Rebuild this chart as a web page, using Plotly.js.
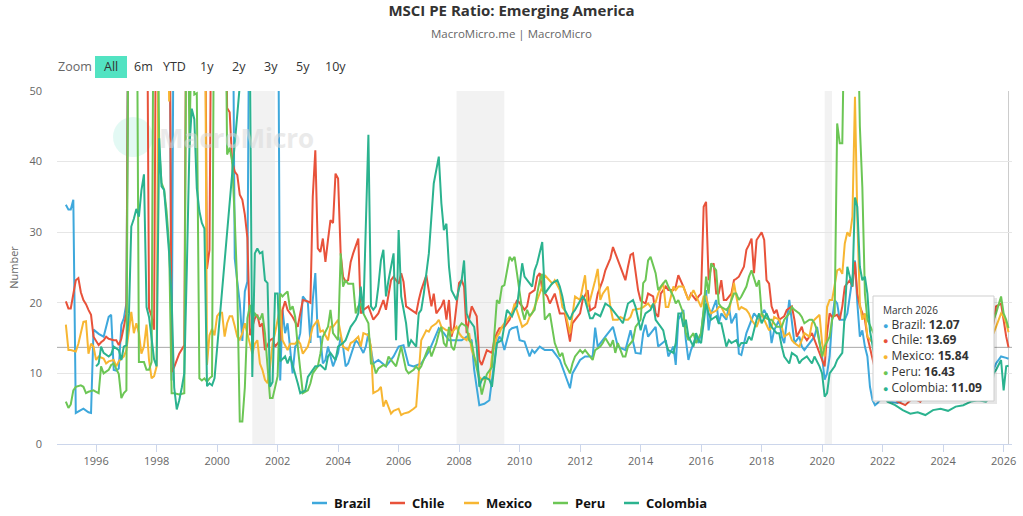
<!DOCTYPE html>
<html><head><meta charset="utf-8">
<script src="https://cdn.plot.ly/plotly-3.0.1.min.js"></script>
<style>html,body{margin:0;padding:0;background:#fff}#chart{width:1023px;height:516px}</style>
</head><body><div id="chart"></div>
<script>
// ---------------- DATA ----------------
const seriesNames = ["Brazil","Chile","Mexico","Peru","Colombia"];
const seriesColors = ["#3ea8dc","#e8523a","#f7b632","#6cc655","#2bb38f"];

const brazil = [["1995-01",33.9],["1995-02",33.2],["1995-03",33.2],["1995-04",34.6],["1995-05",4.4],["1995-06",4.6],["1995-08",5.0],["1995-10",4.5],["1995-11",4.4],["1995-12",16.2],["1996-02",15.6],["1996-04",15.2],["1996-05",16.6],["1996-06",18.0],["1996-07",18.3],["1996-08",10.5],["1996-09",10.4],["1996-10",10.7],["1996-11",16.9],["1996-12",17.8],["1997-01",19.9],["1997-02",80],["1998-06",80],["1998-07",9],["1998-08",80],["2000-07",80],["2000-08",26.3],["2000-09",23],["2000-10",20],["2000-11",14.6],["2000-12",21.6],["2001-01",23],["2001-02",80],["2002-01",80],["2002-02",9],["2002-03",19],["2002-04",15.7],["2002-05",17.1],["2002-06",13.8],["2002-07",10],["2002-08",13.8],["2002-09",14.3],["2002-10",15.7],["2002-11",20.9],["2003-01",20],["2003-02",14.3],["2003-03",20.4],["2003-04",24.2],["2003-05",15.2],["2003-06",15.2],["2003-07",11.4],["2003-08",11.9],["2003-09",13.8],["2003-11",11],["2004-01",12.9],["2004-02",15.2],["2004-03",13.8],["2004-04",11],["2004-05",11.4],["2004-07",13.8],["2004-08",14.7],["2004-09",14.3],["2004-11",12.9],["2004-12",13.8],["2005-01",15.7],["2005-03",11.4],["2005-05",11.9],["2005-08",11.0],["2005-11",12.4],["2006-01",13.8],["2006-03",14.0],["2006-05",11.2],["2006-07",11.0],["2006-10",11.4],["2007-01",13.1],["2007-03",14.7],["2007-05",16.4],["2007-07",15.7],["2007-09",14.7],["2007-11",14.7],["2008-02",14.7],["2008-04",15.2],["2008-06",14.7],["2008-07",10.5],["2008-08",7.6],["2008-09",5.5],["2008-11",5.7],["2009-01",6.2],["2009-02",9.1],["2009-04",14.3],["2009-05",15.2],["2009-06",14.7],["2009-07",13.3],["2009-09",16.1],["2009-10",16.4],["2009-12",16.6],["2010-01",14.7],["2010-03",14.5],["2010-05",12.4],["2010-06",13.3],["2010-07",12.9],["2010-09",13.8],["2010-11",13.3],["2011-02",13.3],["2011-05",11.9],["2011-07",10],["2011-09",7.9],["2011-10",10],["2012-01",11.9],["2012-03",12.4],["2012-06",12.4],["2012-07",16.5],["2012-08",13.8],["2012-11",15.2],["2013-02",16.6],["2013-04",13.8],["2013-07",13.3],["2013-09",16.1],["2013-11",12.9],["2014-01",12.8],["2014-02",15.7],["2014-03",16.9],["2014-04",15.2],["2014-07",16.6],["2014-08",13.8],["2014-11",14.7],["2014-12",12.4],["2015-02",13.8],["2015-03",11.2],["2015-04",17.6],["2015-06",19],["2015-07",14.7],["2015-08",11.9],["2015-09",13.3],["2015-11",15.2],["2015-12",14.3],["2016-01",15.7],["2016-03",21.8],["2016-04",16.1],["2016-05",18.5],["2016-07",20.4],["2016-08",17.1],["2016-09",18.5],["2016-11",17.6],["2016-12",19.5],["2017-01",17.1],["2017-03",18.5],["2017-04",12.8],["2017-05",12.6],["2017-07",15.7],["2017-08",16.6],["2017-10",18.5],["2017-12",17.6],["2018-02",19],["2018-04",17.6],["2018-05",14.3],["2018-06",16.1],["2018-08",17.6],["2018-09",15.2],["2018-10",14.3],["2018-12",20.4],["2019-01",17.6],["2019-02",14.3],["2019-04",15.2],["2019-05",13.8],["2019-06",13.3],["2019-07",13.8],["2019-09",14.7],["2019-10",15.2],["2019-11",16.6],["2020-01",12.4],["2020-02",9.1],["2020-03",10],["2020-04",12.4],["2020-05",17.6],["2020-06",20.4],["2020-07",19.9],["2020-08",17.6],["2020-10",17.6],["2020-11",18.5],["2021-01",23.2],["2021-02",26],["2021-03",20],["2021-04",15.2],["2021-05",16.1],["2021-06",13.8],["2021-07",12.4],["2021-08",8.1],["2021-09",6.2],["2021-10",5.5],["2021-11",5.8],["2022-01",6.7],["2022-04",6.0],["2022-07",5.8],["2022-10",6.5],["2023-01",6.5],["2023-04",6.8],["2023-07",8.0],["2023-10",7.5],["2024-01",8.2],["2024-04",7.8],["2024-07",8.0],["2024-10",7.5],["2025-01",7.0],["2025-04",8.5],["2025-07",9.5],["2025-08",10],["2025-09",10.5],["2025-10",11.4],["2025-12",12.4],["2026-02",12.2],["2026-03",12.07]];

const chile = [["1995-01",20.2],["1995-02",19.2],["1995-03",19.2],["1995-04",21.3],["1995-05",23.2],["1995-06",23.5],["1995-07",21.5],["1995-08",20.4],["1995-09",19.8],["1995-10",19],["1995-11",18.3],["1995-12",15.2],["1996-01",14.5],["1996-02",14],["1996-03",14.4],["1996-04",14.7],["1996-05",15.2],["1996-06",14.9],["1996-08",14.7],["1996-09",14.7],["1996-10",14],["1996-11",14.9],["1996-12",16.6],["1997-01",18.5],["1997-02",80],["1997-09",80],["1997-10",19.2],["1997-11",18.1],["1997-12",16.2],["1998-01",80],["1998-06",80],["1998-07",10.2],["1998-08",10.9],["1998-10",12.8],["1998-12",14],["1999-01",80],["1999-08",80],["1999-09",24.8],["1999-10",27.5],["1999-11",80],["2000-04",80],["2000-05",47.6],["2000-06",47],["2000-07",40],["2000-08",38.6],["2000-09",38.1],["2000-10",35.3],["2000-11",34.6],["2000-12",32.5],["2001-01",29.2],["2001-02",15.4],["2001-04",17.8],["2001-05",18.3],["2001-06",16.6],["2001-07",17.1],["2001-08",13.3],["2001-10",14.7],["2001-11",14.9],["2001-12",13.8],["2002-02",14.7],["2002-03",19],["2002-04",20.2],["2002-05",19],["2002-06",18.5],["2002-07",18],["2002-09",16.6],["2002-10",18.5],["2002-11",20.4],["2003-01",20.2],["2003-02",20],["2003-03",35],["2003-04",41.6],["2003-05",27.7],["2003-06",27.2],["2003-07",29.1],["2003-08",25.8],["2003-09",28.9],["2003-10",31.7],["2003-11",31.3],["2003-12",38.3],["2004-01",37.6],["2004-02",27],["2004-03",23.7],["2004-04",23],["2004-05",23.2],["2004-06",25.8],["2004-07",27],["2004-08",28.2],["2004-09",29.1],["2004-10",18.5],["2004-11",19],["2005-01",19.5],["2005-02",18.5],["2005-03",17.6],["2005-05",18.5],["2005-06",19.5],["2005-07",20.4],["2005-08",19],["2005-10",23.2],["2005-11",23.7],["2005-12",23.2],["2006-01",22.7],["2006-02",24.2],["2006-03",23],["2006-04",19.5],["2006-06",19],["2006-08",18.5],["2006-09",20.4],["2006-10",21.8],["2006-12",23.9],["2007-02",19.5],["2007-03",21.3],["2007-04",18.5],["2007-06",19.5],["2007-07",20.4],["2007-08",17.6],["2007-09",20.4],["2007-10",15.2],["2007-11",16.6],["2008-01",22.8],["2008-02",23.2],["2008-03",22.3],["2008-04",15.7],["2008-05",17.6],["2008-06",19.5],["2008-08",18.1],["2008-09",11.9],["2008-10",11.2],["2008-12",13.3],["2009-02",12.9],["2009-03",14.7],["2009-04",15.7],["2009-05",16.4],["2009-07",16.6],["2009-09",17.6],["2009-10",18.5],["2009-12",20.4],["2010-02",19.5],["2010-03",19],["2010-04",19.5],["2010-05",21.3],["2010-07",21.8],["2010-08",23.7],["2010-09",24.2],["2010-10",21.8],["2010-12",20.9],["2011-01",19.9],["2011-03",21.3],["2011-04",19.9],["2011-05",18.5],["2011-07",18.5],["2011-09",14.5],["2011-10",17.1],["2011-11",17.6],["2012-01",18.5],["2012-02",20.4],["2012-04",21.8],["2012-05",18.9],["2012-07",19.4],["2012-08",21.3],["2012-10",23.2],["2012-11",24.6],["2013-01",26.3],["2013-02",27.9],["2013-03",27],["2013-04",26],["2013-06",24.2],["2013-07",23.2],["2013-08",25.1],["2013-09",26.8],["2013-10",27],["2013-11",24.6],["2013-12",21.8],["2014-01",20.3],["2014-03",19.9],["2014-04",21.3],["2014-06",20.9],["2014-07",18.5],["2014-08",18],["2014-09",21.3],["2014-11",22.3],["2014-12",21.8],["2015-02",21.8],["2015-03",22.3],["2015-04",23.9],["2015-06",22.3],["2015-07",21.3],["2015-08",20.4],["2015-09",21.3],["2015-11",20.4],["2015-12",20.9],["2016-01",21.3],["2016-02",33.6],["2016-03",34.3],["2016-04",23.2],["2016-05",25.1],["2016-06",25.6],["2016-07",21.3],["2016-08",21.3],["2016-09",23.2],["2016-10",20.4],["2016-11",20.4],["2017-01",21.3],["2017-02",23.2],["2017-03",23.4],["2017-04",23.7],["2017-06",25.1],["2017-07",27.5],["2017-08",28.2],["2017-09",29.1],["2017-10",24.2],["2017-11",28.9],["2018-01",30],["2018-02",28.9],["2018-03",23.2],["2018-04",22.7],["2018-05",19.5],["2018-06",18.5],["2018-07",19],["2018-08",17.6],["2018-10",18.1],["2018-11",19],["2019-01",19.5],["2019-02",17.6],["2019-03",15.2],["2019-05",16.6],["2019-06",15.2],["2019-07",14.7],["2019-09",15.7],["2019-10",14.7],["2019-11",13.8],["2020-01",11.9],["2020-02",11],["2020-03",15.7],["2020-04",18.5],["2020-05",18],["2020-07",18.3],["2020-08",17.6],["2020-09",19.5],["2020-10",22.3],["2020-12",23.2],["2021-01",22.3],["2021-02",25.8],["2021-03",21.3],["2021-04",19.5],["2021-06",17.6],["2021-07",15.2],["2021-09",12],["2021-11",9],["2022-01",8],["2022-04",7],["2022-07",6],["2022-10",5.5],["2023-01",6.5],["2023-04",6],["2023-07",7.5],["2023-10",6.5],["2024-01",8],["2024-04",9.5],["2024-07",10],["2024-10",10.5],["2025-01",11],["2025-04",13],["2025-06",14.5],["2025-08",15.7],["2025-09",17.1],["2025-10",19.5],["2025-12",19.9],["2026-02",15.2],["2026-03",13.69]];

const mexico = [["1995-01",16.9],["1995-02",13.3],["1995-03",13.3],["1995-05",13.1],["1995-06",14.2],["1995-07",15.7],["1995-08",17.3],["1995-09",17.4],["1995-10",12.8],["1995-11",14.2],["1995-12",13.8],["1996-01",11.9],["1996-02",12.4],["1996-04",12.1],["1996-05",11.4],["1996-06",11.7],["1996-08",11.9],["1996-09",11],["1996-10",11.7],["1996-12",12.4],["1997-01",13.3],["1997-02",16.1],["1997-03",18.7],["1997-04",15.7],["1997-05",17.1],["1997-06",15.7],["1997-07",12.8],["1997-08",13.8],["1997-09",16.9],["1997-10",11.9],["1997-11",9.3],["1997-12",9.6],["1998-01",11],["1998-02",80],["1998-05",80],["1998-06",48.5],["1998-07",80],["1999-08",80],["1999-09",11.2],["1999-10",15.4],["1999-11",16.3],["1999-12",15.4],["2000-01",18.1],["2000-02",18.6],["2000-03",18.6],["2000-04",15.2],["2000-05",17.1],["2000-06",18.1],["2000-07",18.1],["2000-08",16.7],["2000-09",15.2],["2000-10",14.8],["2000-11",15.7],["2000-12",17.1],["2001-01",15.7],["2001-02",14.3],["2001-03",12.8],["2001-04",14.2],["2001-05",14.7],["2001-06",11.4],["2001-07",10.5],["2001-08",9.1],["2001-09",8.6],["2001-10",10.9],["2001-11",14.2],["2001-12",15.7],["2002-01",17.6],["2002-02",19.5],["2002-03",14.7],["2002-05",13.3],["2002-06",14.2],["2002-08",14.2],["2002-09",14.7],["2002-10",14.2],["2002-11",12.8],["2003-01",13.8],["2003-02",15.2],["2003-03",16.6],["2003-05",17.6],["2003-06",15.9],["2003-07",16.1],["2003-09",14.7],["2003-10",16.6],["2003-11",16.6],["2004-01",17.6],["2004-02",15.7],["2004-03",13.8],["2004-05",13.3],["2004-06",14.3],["2004-07",14.5],["2004-09",15.2],["2004-10",13.8],["2004-11",15.7],["2005-01",15.4],["2005-02",13.8],["2005-03",7.2],["2005-05",7.6],["2005-06",8.1],["2005-07",5.3],["2005-08",6.2],["2005-10",4.3],["2005-11",4.7],["2006-01",5],["2006-02",4.1],["2006-03",4.3],["2006-05",4.5],["2006-06",4.7],["2006-07",5],["2006-08",5.3],["2006-09",10],["2006-10",14.7],["2006-12",16.1],["2007-01",15.9],["2007-02",16.6],["2007-04",17.1],["2007-05",17.6],["2007-06",16.6],["2007-08",16.1],["2007-09",16.1],["2007-10",15.7],["2007-12",16.6],["2008-01",15.7],["2008-02",15.2],["2008-04",14.7],["2008-05",15.7],["2008-06",13.3],["2008-08",11.4],["2008-09",9.5],["2008-10",9.1],["2008-12",9.3],["2009-01",9.1],["2009-02",12.4],["2009-04",15.2],["2009-05",15.7],["2009-06",16.6],["2009-07",17.1],["2009-09",18],["2009-10",18.5],["2009-11",19.9],["2010-01",17.6],["2010-02",16.6],["2010-04",17.1],["2010-05",18],["2010-06",18.5],["2010-07",19.4],["2010-09",21.3],["2010-10",22.3],["2010-11",23.9],["2011-01",23.2],["2011-02",22.7],["2011-03",23.2],["2011-05",21.8],["2011-06",19.4],["2011-07",18.9],["2011-09",15.7],["2011-10",18.5],["2011-11",20.9],["2012-01",20.4],["2012-02",22.3],["2012-03",23.9],["2012-04",19.4],["2012-05",20.4],["2012-07",23.2],["2012-08",24.8],["2012-09",20.4],["2012-10",21.3],["2012-12",22.3],["2013-01",19.4],["2013-02",17.6],["2013-04",17.6],["2013-05",18],["2013-07",17.6],["2013-08",17.6],["2013-09",18],["2013-10",19],["2014-01",19.2],["2014-02",19.4],["2014-04",19.9],["2014-05",19.4],["2014-07",20.1],["2014-08",21.3],["2014-10",22.8],["2014-11",19.4],["2014-12",19.4],["2015-02",22.3],["2015-03",21.8],["2015-04",22.3],["2015-06",22.3],["2015-07",21.3],["2015-08",20.4],["2015-10",21.8],["2015-11",20.9],["2016-01",19.4],["2016-02",20.9],["2016-03",20.9],["2016-04",19.4],["2016-05",18.5],["2016-07",18.9],["2016-08",19.4],["2016-09",19.4],["2016-11",18],["2016-12",18.5],["2017-01",20.9],["2017-02",22.8],["2017-03",20.9],["2017-04",19],["2017-05",19.4],["2017-07",19],["2017-08",18.5],["2017-09",17.6],["2017-11",16.6],["2017-12",17.6],["2018-01",18.5],["2018-02",17.6],["2018-04",16.1],["2018-05",16.6],["2018-06",18],["2018-08",17.6],["2018-09",16.6],["2018-10",15.2],["2018-12",15.7],["2019-01",14.7],["2019-02",14.3],["2019-04",13.8],["2019-05",14.7],["2019-06",15.7],["2019-08",15.2],["2019-09",17.1],["2019-10",17.6],["2019-12",18.3],["2020-01",14.3],["2020-02",12.4],["2020-03",19.4],["2020-04",20.4],["2020-05",20.4],["2020-07",24.6],["2020-08",24.8],["2020-09",24.1],["2020-10",28.4],["2020-11",30],["2020-12",29.4],["2021-01",32.2],["2021-02",49.2],["2021-03",32.2],["2021-04",19.9],["2021-05",17.6],["2021-06",18.5],["2021-07",15.2],["2021-08",14.8],["2021-10",14],["2021-12",14.5],["2022-03",13.5],["2022-06",12.5],["2022-09",12],["2022-12",12.5],["2023-03",12.5],["2023-06",13.5],["2023-09",12.5],["2023-12",13.5],["2024-03",13],["2024-06",11.5],["2024-09",11.5],["2024-12",11],["2025-03",12.5],["2025-06",14],["2025-08",15.2],["2025-09",15.7],["2025-10",16.6],["2025-12",18.5],["2026-01",18.1],["2026-02",17.1],["2026-03",15.84]];

const peru = [["1995-01",6],["1995-02",5.1],["1995-03",5.6],["1995-04",7.6],["1995-05",8.1],["1995-07",8.3],["1995-08",8.1],["1995-09",7.2],["1995-10",7.4],["1995-12",7.6],["1996-01",7.4],["1996-02",7.2],["1996-03",11],["1996-04",10],["1996-06",10.5],["1996-07",11.2],["1996-08",11.4],["1996-09",10.5],["1996-10",9.9],["1996-11",6.5],["1996-12",7.2],["1997-01",7.6],["1997-02",80],["1997-05",80],["1997-06",11.6],["1997-07",11.6],["1997-08",11.6],["1997-09",10.5],["1997-10",10.5],["1997-11",11.6],["1997-12",80],["1998-01",80],["1998-02",42],["1998-03",37],["1998-04",36],["1998-05",33],["1998-06",28],["1998-07",7.2],["1998-08",7.2],["1998-10",7.0],["1998-12",7.2],["1999-01",80],["1999-02",42],["1999-03",60],["1999-04",49.5],["1999-05",49.7],["1999-06",9.3],["1999-07",9],["1999-08",9.3],["1999-09",8.8],["1999-10",9.3],["1999-11",9.6],["1999-12",80],["2000-04",80],["2000-05",41],["2000-06",42],["2000-07",40],["2000-08",32],["2000-09",22],["2000-10",3.2],["2000-11",3.2],["2000-12",8],["2001-01",17.8],["2001-02",19.7],["2001-03",17.6],["2001-04",18.5],["2001-05",18.1],["2001-06",17.6],["2001-07",18.5],["2001-08",15.7],["2001-09",11],["2001-10",6.5],["2001-11",6.5],["2001-12",8.1],["2002-01",9.6],["2002-02",21.3],["2002-03",20.9],["2002-04",21.3],["2002-05",21.6],["2002-06",19],["2002-07",19.5],["2002-08",18],["2002-09",13.8],["2002-11",7.2],["2003-01",7.6],["2003-02",8.6],["2003-03",10],["2003-05",11],["2003-06",12.8],["2003-07",15.2],["2003-09",16.6],["2003-10",19],["2003-11",15.7],["2004-01",14.7],["2004-02",27],["2004-03",22.3],["2004-04",23.2],["2004-05",22.7],["2004-07",22.7],["2004-08",18.5],["2004-09",19.5],["2004-10",19.9],["2004-11",18.5],["2005-01",17.1],["2005-02",11.4],["2005-03",11.4],["2005-04",10],["2005-05",10.7],["2005-07",11.2],["2005-08",11],["2005-09",12.4],["2005-10",11.9],["2005-12",11],["2006-01",12.4],["2006-02",13.8],["2006-04",10.5],["2006-05",10],["2006-07",10.5],["2006-08",11],["2006-09",10.5],["2006-10",11],["2006-12",12.9],["2007-01",13.8],["2007-02",12.4],["2007-04",14.3],["2007-05",15.7],["2007-06",16.6],["2007-07",14.3],["2007-08",13.8],["2007-09",16.6],["2007-10",13.8],["2007-11",13.3],["2008-01",16.6],["2008-02",17.1],["2008-04",16.6],["2008-05",14.7],["2008-06",14.3],["2008-07",12.4],["2008-09",9.1],["2008-10",7],["2008-11",8.6],["2008-12",9.9],["2009-02",10.9],["2009-03",15.2],["2009-04",20.4],["2009-05",19.9],["2009-06",22.3],["2009-07",22.5],["2009-09",26.5],["2009-10",26],["2009-11",26.5],["2009-12",24.1],["2010-02",18.9],["2010-03",17.6],["2010-04",19],["2010-05",18.1],["2010-07",19],["2010-08",21.3],["2010-09",23.2],["2010-10",24.1],["2010-11",17.6],["2011-01",18.5],["2011-02",16.1],["2011-03",14.3],["2011-05",12.4],["2011-06",12.9],["2011-07",11.4],["2011-09",10],["2011-10",11.4],["2011-11",12.4],["2012-01",13.3],["2012-02",12.9],["2012-03",13.3],["2012-05",12.4],["2012-06",11.9],["2012-07",13.3],["2012-09",13.8],["2012-10",14.3],["2012-11",15],["2013-01",13.8],["2013-02",14.7],["2013-03",12.9],["2013-04",14.3],["2013-06",12.4],["2013-07",12.4],["2013-08",13.8],["2013-10",14.7],["2013-11",16.6],["2014-01",17.6],["2014-02",22.8],["2014-03",23.2],["2014-04",26],["2014-05",26.5],["2014-07",24.2],["2014-08",21.8],["2014-09",22.3],["2014-11",23.2],["2014-12",22.3],["2015-02",20.9],["2015-03",19.9],["2015-04",20.4],["2015-06",18.5],["2015-07",15.7],["2015-08",14.7],["2015-10",15.7],["2015-11",14.3],["2016-01",15.7],["2016-02",19],["2016-03",23.7],["2016-04",21.3],["2016-05",25.6],["2016-07",24.6],["2016-08",19.9],["2016-09",19.4],["2016-11",19],["2016-12",19.4],["2017-02",21.3],["2017-03",21.3],["2017-04",20.4],["2017-05",20.9],["2017-07",22.3],["2017-08",23.7],["2017-09",24.6],["2017-11",22.3],["2017-12",23.2],["2018-01",18.5],["2018-02",18],["2018-04",17.6],["2018-05",17.6],["2018-06",17.1],["2018-07",16.6],["2018-09",16.6],["2018-10",17.6],["2018-12",18.5],["2019-01",19.4],["2019-02",19],["2019-04",18.5],["2019-05",18],["2019-06",17.1],["2019-08",17.6],["2019-09",17.6],["2019-10",17.1],["2019-11",16.1],["2020-01",12.4],["2020-02",13.8],["2020-04",15.2],["2020-05",17.6],["2020-06",18.5],["2020-07",45.4],["2020-08",42.6],["2020-09",42.6],["2020-10",65],["2021-03",65],["2021-04",45],["2021-05",36.4],["2021-06",21.3],["2021-07",17.6],["2021-09",16],["2021-12",14],["2022-03",13],["2022-06",11],["2022-09",10.5],["2022-12",11],["2023-03",10],["2023-06",11.5],["2023-09",11],["2023-12",12.5],["2024-03",13.5],["2024-06",12],["2024-09",12.5],["2024-12",12],["2025-03",13.5],["2025-06",15],["2025-08",15.7],["2025-09",17.6],["2025-10",18.5],["2025-12",20.9],["2026-01",18.5],["2026-02",17.6],["2026-03",16.43]];

const colombia = [["1996-01",11],["1996-02",11.4],["1996-03",13.8],["1996-04",12.9],["1996-06",12.4],["1996-07",12.7],["1996-08",13.8],["1996-10",13.3],["1996-11",11.9],["1996-12",13.8],["1997-01",14],["1997-02",18.5],["1997-03",30.8],["1997-04",31.9],["1997-05",33.3],["1997-06",32.2],["1997-07",35.9],["1997-08",38.2],["1997-09",19.4],["1997-10",18],["1997-11",15],["1997-12",12],["1998-01",11],["1998-02",43.3],["1998-03",36.5],["1998-04",36],["1998-05",31.6],["1998-06",27],["1998-07",20.8],["1998-08",8],["1998-09",4.9],["1998-10",6.2],["1998-11",8],["1998-12",10],["1999-01",25],["1999-02",42],["1999-03",47.5],["1999-04",46],["1999-05",36.2],["1999-06",33],["1999-07",31.3],["1999-08",30.5],["1999-09",8.2],["1999-10",8.6],["1999-11",8.3],["1999-12",9.3],["2000-11",55],["2001-02",55],["2001-03",9.5],["2001-04",27],["2001-05",27.7],["2001-06",27],["2001-07",27.2],["2001-08",23.2],["2001-09",22.8],["2001-10",8.1],["2001-11",8.8],["2001-12",21.3],["2002-01",21.3],["2002-02",11.7],["2002-04",12.4],["2002-05",11.4],["2002-06",12.4],["2002-08",10],["2002-09",8.6],["2002-10",7.2],["2002-12",7.6],["2003-01",9.5],["2003-03",10.5],["2003-04",11],["2003-05",11],["2003-06",11.2],["2003-08",10.5],["2003-09",12.4],["2003-10",12.9],["2003-12",11.9],["2004-01",13.8],["2004-03",14.3],["2004-04",14.7],["2004-05",15.7],["2004-06",16.6],["2004-08",17.6],["2004-09",18.5],["2004-10",22.3],["2004-11",18.5],["2005-01",43.8],["2005-02",19.5],["2005-03",19],["2005-04",19.5],["2005-05",22.3],["2005-06",26],["2005-07",27.5],["2005-08",20.9],["2005-09",23.2],["2005-11",27],["2005-12",14.7],["2006-01",30.3],["2006-02",20.9],["2006-04",17.1],["2006-05",13.8],["2006-06",14.7],["2006-08",13.8],["2006-09",18.5],["2006-10",19],["2006-11",21.3],["2007-01",27],["2007-02",32.7],["2007-03",36.9],["2007-05",40.7],["2007-06",34.1],["2007-07",30.3],["2007-08",31.2],["2007-09",25.1],["2007-10",21.8],["2007-12",20.4],["2008-01",22.1],["2008-02",23.2],["2008-03",26],["2008-04",18.5],["2008-05",17.6],["2008-07",16.6],["2008-08",13.8],["2008-09",8.1],["2008-10",9.1],["2008-11",9.5],["2009-01",9.1],["2009-02",8.1],["2009-03",11],["2009-04",14.3],["2009-06",14.7],["2009-07",16.6],["2009-08",19],["2009-10",18.1],["2009-11",19],["2009-12",19.5],["2010-02",25.6],["2010-03",23.7],["2010-04",23.2],["2010-06",22.3],["2010-07",24.6],["2010-08",25.6],["2010-10",28.6],["2010-11",21.3],["2010-12",21.8],["2011-01",22.3],["2011-02",22.8],["2011-04",23.2],["2011-05",22.3],["2011-06",20.9],["2011-07",19],["2011-09",17.6],["2011-10",18.5],["2011-11",19],["2012-01",20.4],["2012-02",20.9],["2012-03",20.4],["2012-05",17.8],["2012-06",17.8],["2012-07",18.5],["2012-09",18.1],["2012-10",19],["2012-11",19.9],["2013-01",19.4],["2013-02",19],["2013-03",18.5],["2013-05",17.6],["2013-06",17.1],["2013-07",18.5],["2013-08",19.9],["2013-10",20.4],["2013-11",19.4],["2014-01",16.1],["2014-02",17.6],["2014-03",18.5],["2014-05",19],["2014-06",19.9],["2014-07",17.6],["2014-09",16.6],["2014-10",16.1],["2014-11",14.3],["2014-12",13.3],["2015-02",12.9],["2015-03",14.3],["2015-04",18.5],["2015-05",18.5],["2015-06",16.6],["2015-07",17.6],["2015-08",15.2],["2015-10",13.8],["2015-11",15.7],["2015-12",14.7],["2016-01",14.3],["2016-03",19.9],["2016-04",18.5],["2016-05",17.6],["2016-07",18.1],["2016-08",17.1],["2016-09",17.1],["2016-11",13.8],["2016-12",14.7],["2017-01",14.3],["2017-03",14.7],["2017-04",13.8],["2017-05",14.3],["2017-07",14.3],["2017-08",15.2],["2017-09",14.7],["2017-11",17.6],["2017-12",18.5],["2018-01",17.1],["2018-03",18.5],["2018-04",17.6],["2018-05",16.6],["2018-07",15.7],["2018-08",15.7],["2018-09",13.8],["2018-10",12.4],["2018-12",11.4],["2019-01",12.9],["2019-03",12.4],["2019-04",11.4],["2019-05",11.9],["2019-07",12.4],["2019-08",11.9],["2019-09",11.4],["2019-10",12.4],["2019-12",11],["2020-01",10],["2020-02",6.7],["2020-03",7.2],["2020-04",10],["2020-06",11],["2020-07",11.9],["2020-08",12.4],["2020-09",12.9],["2020-10",18.5],["2020-11",25.1],["2020-12",23.7],["2021-01",22.3],["2021-02",34.9],["2021-03",33.6],["2021-04",25.1],["2021-05",23.2],["2021-06",23.7],["2021-07",21.3],["2021-08",16],["2021-10",12],["2021-12",8],["2022-03",6],["2022-06",5.5],["2022-09",4.8],["2022-12",4.3],["2023-03",4.5],["2023-06",4.1],["2023-09",4.8],["2023-12",5],["2024-03",4.7],["2024-06",5.3],["2024-09",5.5],["2024-12",6],["2025-03",6.2],["2025-06",6],["2025-08",6.7],["2025-09",10],["2025-10",10.5],["2025-12",11.9],["2026-01",7.6],["2026-02",11],["2026-03",11.09]];

const recessions = [["2001-03-01","2001-11-30"],["2007-12-01","2009-06-30"],["2020-02-01","2020-04-30"]];
const yTickValues = [0,10,20,30,40,50];
const rangeButtons = ["All","6m","YTD","1y","2y","3y","5y","10y"];
const monthNames = ["January","February","March","April","May","June","July","August","September","October","November","December"];

// ---------------- LAYOUT HELPERS ----------------
const FONT = "Open Sans, Noto Sans, sans-serif";
const L = 57, R = 1012, T = 91, B = 444;
const px2x = p => (p - L) / (R - L);
const py2y = p => (B - p) / (B - T);

const allSeries = [brazil, chile, mexico, peru, colombia];
const traces = allSeries.map((s, i) => ({
  type: "scatter", mode: "lines", name: seriesNames[i],
  x: s.map(p => p[0]), y: s.map(p => p[1]),
  line: { color: seriesColors[i], width: 2 },
  hoverinfo: "skip", showlegend: false
}));

const lastDate = brazil[brazil.length - 1][0];
const lastParts = lastDate.split("-");
const tipTitle = monthNames[parseInt(lastParts[1], 10) - 1] + " " + lastParts[0];
const lastVals = allSeries.map(s => s[s.length - 1][1]);

const shapes = [];
recessions.forEach(r => shapes.push({
  type: "rect", xref: "x", yref: "paper", x0: r[0], x1: r[1], y0: 0, y1: 1,
  fillcolor: "#f2f2f2", line: { width: 0 }, layer: "below"
}));
// crosshairs at hovered point
shapes.push({ type: "line", xref: "x", yref: "paper", x0: lastDate, x1: lastDate, y0: 0, y1: 1,
  line: { color: "#cccccc", width: 1 }, layer: "between" });
shapes.push({ type: "line", xref: "paper", yref: "y", x0: 0, x1: 1, y0: lastVals[1], y1: lastVals[1],
  line: { color: "#a8a8a8", width: 1 }, layer: "between" });
// watermark circle
shapes.push({ type: "circle", xref: "paper", yref: "paper",
  x0: px2x(113), x1: px2x(153), y0: py2y(157), y1: py2y(117),
  fillcolor: "rgba(80,220,185,0.16)", line: { width: 0 }, layer: "below" });
// "All" button background
shapes.push({ type: "rect", xref: "paper", yref: "paper",
  x0: px2x(95), x1: px2x(127), y0: py2y(78), y1: py2y(56),
  fillcolor: "#52e3c2", line: { width: 0 }, layer: "above" });
// tooltip shadow + box
shapes.push({ type: "rect", xref: "paper", yref: "paper",
  x0: px2x(875), x1: px2x(997), y0: py2y(404), y1: py2y(298),
  fillcolor: "rgba(0,0,0,0.10)", line: { width: 0 }, layer: "above" });
shapes.push({ type: "rect", xref: "paper", yref: "paper",
  x0: px2x(873), x1: px2x(994), y0: py2y(401), y1: py2y(296),
  fillcolor: "#ffffff", line: { color: "#cfcfcf", width: 1 }, layer: "above" });

// custom legend (short line samples like the reference)
const legendStarts = [312, 390, 464, 553, 624];
const legendY = 503;
seriesNames.forEach((n, i) => {
  shapes.push({ type: "line", xref: "paper", yref: "paper",
    x0: px2x(legendStarts[i]), x1: px2x(legendStarts[i] + 15), y0: py2y(legendY), y1: py2y(legendY),
    line: { color: seriesColors[i], width: 2.5 }, layer: "above" });
});

const btnCenters = [111, 143, 174.5, 207, 239, 271, 302.5, 335];
const annotations = [];
annotations.push({ xref: "paper", yref: "paper", x: px2x(511), y: py2y(34), xanchor: "center", yanchor: "middle",
  text: "MacroMicro.me | MacroMicro", showarrow: false, font: { family: FONT, size: 11.5, color: "#666666" } });
annotations.push({ xref: "paper", yref: "paper", x: px2x(56), y: py2y(67), xanchor: "left", yanchor: "middle",
  text: "Zoom", showarrow: false, font: { family: FONT, size: 12.5, color: "#666666" } });
rangeButtons.forEach((b, i) => annotations.push({ xref: "paper", yref: "paper", x: px2x(btnCenters[i]), y: py2y(67),
  xanchor: "center", yanchor: "middle", text: b, showarrow: false, font: { family: FONT, size: 12.5, color: "#333333" } }));
annotations.push({ xref: "paper", yref: "paper", x: px2x(157), y: py2y(138), xanchor: "left", yanchor: "middle",
  text: "<b>MacroMicro</b>", showarrow: false, opacity: 0.55, font: { family: FONT, size: 26, color: "#d9d9d9" } });
seriesNames.forEach((n, i) => annotations.push({ xref: "paper", yref: "paper",
  x: px2x(legendStarts[i] + 20), y: py2y(legendY), xanchor: "left", yanchor: "middle",
  text: "<b>" + n + "</b>", showarrow: false, font: { family: FONT, size: 13, color: "#111111" } }));
// tooltip content: one text per line
annotations.push({ xref: "paper", yref: "paper", x: px2x(881), y: py2y(309.5), xanchor: "left", yanchor: "middle",
  text: tipTitle, showarrow: false, font: { family: FONT, size: 10, color: "#333333" } });
seriesNames.forEach((n, i) => annotations.push({ xref: "paper", yref: "paper",
  x: px2x(881), y: py2y(324 + i * 15.9), xanchor: "left", yanchor: "middle", showarrow: false,
  text: '<span style="color:' + seriesColors[i] + ';font-size:9px">\u25CF</span> ' + n + ': <b>' + lastVals[i].toFixed(2) + '</b>',
  font: { family: FONT, size: 12, color: "#333333" } }));

const layout = {
  width: 1023, height: 516,
  margin: { l: L, r: 1023 - R, t: T, b: 516 - B, pad: 0, autoexpand: false },
  paper_bgcolor: "#ffffff", plot_bgcolor: "#ffffff",
  font: { family: FONT, color: "#666666" },
  title: { text: "<b>MSCI PE Ratio: Emerging America</b>", x: 0.5, xref: "container", xanchor: "center",
    y: 1 - 11 / 516, yref: "container", yanchor: "middle", font: { family: FONT, size: 15, color: "#333333" } },
  showlegend: false,
  hovermode: false,
  xaxis: {
    type: "date", range: ["1994-09-16", "2026-04-12"],
    tick0: "1996-01-01", dtick: "M24", tickformat: "%Y",
    ticks: "outside", ticklen: 7, tickcolor: "#ccd6eb", tickwidth: 1,
    showline: true, linecolor: "#ccd6eb", linewidth: 1,
    showgrid: false, zeroline: false, automargin: false,
    tickfont: { family: FONT, size: 11, color: "#666666" }
  },
  yaxis: {
    range: [0, 50], tickvals: yTickValues, ticktext: yTickValues.map(String),
    showgrid: true, gridcolor: "#e6e6e6", gridwidth: 1, zeroline: false, showline: false,
    ticks: "", ticklabelstandoff: 14, automargin: false,
    tickfont: { family: FONT, size: 11, color: "#666666" },
    title: { text: "Number", standoff: 8, font: { family: FONT, size: 11, color: "#666666" } }
  },
  shapes: shapes,
  annotations: annotations
};

Plotly.newPlot("chart", traces, layout, { staticPlot: true, displayModeBar: false });
</script>
</body></html>
